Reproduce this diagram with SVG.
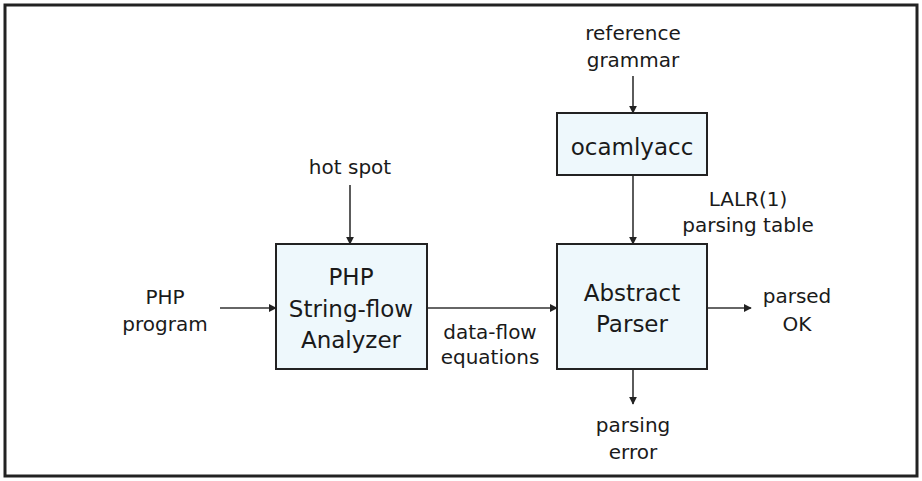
<svg xmlns="http://www.w3.org/2000/svg" width="922" height="481" viewBox="0 0 922 481">
<style>
text{font-family:"DejaVu Sans",Verdana,sans-serif;font-size:20px;fill:#1a1a1a;text-anchor:middle}
.big{font-size:23px}
.box{fill:#eef8fc;stroke:#222;stroke-width:2}
.edge{stroke:#333;stroke-width:1.6;fill:none;marker-end:url(#arr)}
</style>
<defs>
<marker id="arr" viewBox="0 0 10 10" refX="9" refY="5" markerWidth="8" markerHeight="8" markerUnits="userSpaceOnUse" orient="auto">
<path d="M0,0 L10,5 L0,10 z" fill="#222"/>
</marker>
</defs>
<rect x="5" y="5" width="912" height="471" fill="#fff" stroke="#222" stroke-width="3"/>
<g id="edges">
<path class="edge" d="M633,76 L633,113"/>
<path class="edge" d="M633,175 L633,244"/>
<path class="edge" d="M350,185 L350,244"/>
<path class="edge" d="M220,308 L276,308"/>
<path class="edge" d="M427,308 L557,308"/>
<path class="edge" d="M707,308 L751,308"/>
<path class="edge" d="M633,369 L633,404"/>
</g>
<g id="analyzer">
<rect class="box" x="276" y="244" width="151" height="125"/>
<text class="big" x="351" y="285">PHP</text>
<text class="big" x="351" y="317">String-flow</text>
<text class="big" x="351" y="348">Analyzer</text>
</g>
<g id="ocamlyacc">
<rect class="box" x="557" y="113" width="150" height="62"/>
<text class="big" x="632" y="155">ocamlyacc</text>
</g>
<g id="parser">
<rect class="box" x="557" y="244" width="150" height="125"/>
<text class="big" x="632" y="301">Abstract</text>
<text class="big" x="632" y="332">Parser</text>
</g>
<g id="labels">
<text x="633" y="40">reference</text>
<text x="633" y="67">grammar</text>
<text x="350" y="174">hot spot</text>
<text x="165" y="304">PHP</text>
<text x="165" y="331">program</text>
<text x="490" y="339">data-flow</text>
<text x="490" y="364">equations</text>
<text x="748" y="206">LALR(1)</text>
<text x="748" y="232">parsing table</text>
<text x="797" y="303">parsed</text>
<text x="797" y="331">OK</text>
<text x="633" y="432">parsing</text>
<text x="633" y="459">error</text>
</g>
</svg>
